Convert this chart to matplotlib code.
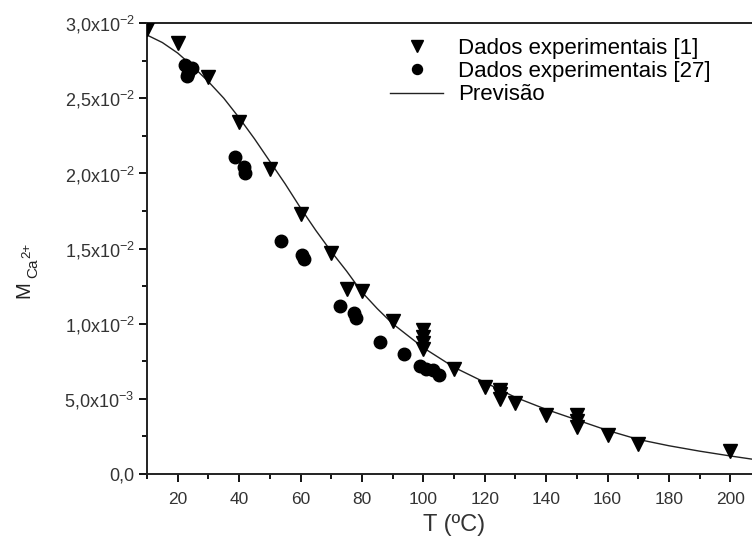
import numpy as np
import matplotlib
matplotlib.use('Agg')
import matplotlib.pyplot as plt
from matplotlib.ticker import MultipleLocator, FixedLocator

plt.rcParams['font.family'] = ['Liberation Sans', 'DejaVu Sans']
plt.rcParams['mathtext.fontset'] = 'custom'
plt.rcParams['mathtext.rm'] = 'Liberation Sans'
plt.rcParams['mathtext.it'] = 'Liberation Sans'

# Dados experimentais [1]
t_ref1 = [10, 20, 30, 40, 50, 60, 70, 75, 80, 90, 100, 100, 100, 100,
          110, 120, 125, 125, 125, 130, 140, 150, 150, 150, 160, 170, 200]
m_ref1 = [0.0296, 0.0287, 0.0264, 0.0234, 0.0203, 0.0173, 0.0147, 0.0123,
          0.0122, 0.0102, 0.0096, 0.0091, 0.0087, 0.0083,
          0.0070, 0.0058, 0.0056, 0.0053, 0.0050, 0.0047, 0.0039,
          0.0039, 0.0035, 0.0031, 0.0026, 0.0020, 0.0015]

# Dados experimentais [27]
t_ref27 = [22.5, 23.5, 24.5, 23, 38.8, 41.5, 42, 53.8, 60.5, 61,
           72.8, 77.5, 78, 85.8, 93.6, 98.8, 101, 103, 105]
m_ref27 = [0.0272, 0.0267, 0.0270, 0.0265, 0.0211, 0.0204, 0.0200, 0.0155,
           0.0146, 0.0143, 0.0112, 0.0107, 0.0104, 0.0088, 0.0080,
           0.0072, 0.0070, 0.0069, 0.0066]

# Previsão
t_prev = [10, 15, 20, 25, 30, 35, 40, 45, 50, 55, 60, 65, 70, 75, 80, 85,
          90, 95, 100, 110, 120, 130, 140, 150, 160, 170, 180, 190, 200, 210]
m_prev = [0.0292, 0.0287, 0.0280, 0.0271, 0.0261, 0.0250, 0.0237, 0.0223,
          0.0208, 0.0193, 0.0177, 0.0162, 0.0148, 0.0135, 0.0121, 0.0110,
          0.0100, 0.0092, 0.0084, 0.0071, 0.0061, 0.0051, 0.0043, 0.0036,
          0.0029, 0.0023, 0.00188, 0.00152, 0.0012, 0.0009]

y_ticks = [0.0, 0.005, 0.010, 0.015, 0.020, 0.025, 0.030]
y_labels = ['0,0', r'5,0x10$^{\mathregular{-3}}$', r'1,0x10$^{\mathregular{-2}}$',
            r'1,5x10$^{\mathregular{-2}}$', r'2,0x10$^{\mathregular{-2}}$',
            r'2,5x10$^{\mathregular{-2}}$', r'3,0x10$^{\mathregular{-2}}$']
x_ticks = [20, 40, 60, 80, 100, 120, 140, 160, 180, 200]

W, H = 752, 549
fig = plt.figure(figsize=(W / 100, H / 100), dpi=100)
# axes runs past the right edge like the cropped original
ax = fig.add_axes([147 / W, 1 - 474 / H, 614 / W, 451 / H])

ax.plot(t_prev, m_prev, color='#222222', lw=1.0, label='Previsão', zorder=2)
ax.plot(t_ref1, m_ref1, 'v', color='black', ms=10, ls='none',
        label='Dados experimentais [1]', zorder=3)
ax.plot(t_ref27, m_ref27, 'o', color='black', ms=9, ls='none',
        label='Dados experimentais [27]', zorder=3)

ax.set_xlim(10, 210)
ax.set_ylim(0, 0.030)

ax.xaxis.set_major_locator(FixedLocator(x_ticks))
ax.xaxis.set_minor_locator(MultipleLocator(10))
ax.yaxis.set_major_locator(FixedLocator(y_ticks))
ax.yaxis.set_minor_locator(MultipleLocator(0.0025))
ax.set_yticklabels(y_labels)

ax.tick_params(which='major', direction='out', length=6, width=1.3,
               labelsize=12.5, labelcolor='#333333', top=False, right=False)
ax.tick_params(which='minor', direction='out', length=3.5, width=1.3,
               top=False, right=False)
ax.tick_params(axis='x', pad=7)
ax.tick_params(axis='y', labelsize=13, pad=3)

for s in ['left', 'bottom', 'top']:
    ax.spines[s].set_linewidth(1.4)
    ax.spines[s].set_color('#222222')
ax.spines['right'].set_visible(False)

ax.set_xlabel('T (ºC)', fontsize=17, color='#333333', labelpad=5)

# y label M_Ca2+ built from pieces so the scripts stay readable
fig.text(24 / W, 1 - 290 / H, 'M', rotation=90, fontsize=14.5,
         color='#222222', ha='center', va='center')
fig.text(33 / W, 1 - 268 / H, 'Ca', rotation=90, fontsize=11,
         color='#222222', ha='center', va='center')
fig.text(27 / W, 1 - 250 / H, '2+', rotation=90, fontsize=9.5,
         color='#222222', ha='center', va='center')

handles, labels = ax.get_legend_handles_labels()
order = [1, 2, 0]
fig.legend([handles[i] for i in order], [labels[i] for i in order],
           loc='upper left', bbox_to_anchor=(390 / W, 1 - 38 / H),
           frameon=False, fontsize=16, handlelength=2.4,
           handletextpad=0.65, labelspacing=0.1, markerscale=0.8,
           borderpad=0, borderaxespad=0)

fig.savefig('out.png', dpi=100)
